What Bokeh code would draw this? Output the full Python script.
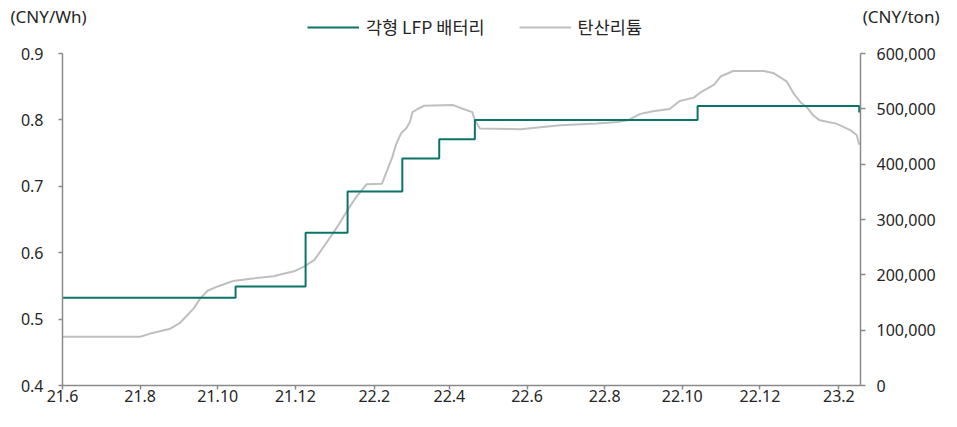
import pandas as pd
from bokeh.plotting import figure
from bokeh.layouts import column
from bokeh.models import (Range1d, LinearAxis, FixedTicker, NumeralTickFormatter,
                          Legend, LegendItem, Label)
from bokeh.embed import file_html
from bokeh.resources import INLINE

# ---- data ----
tick_dates = ["2021-06-01", "2021-08-01", "2021-10-01", "2021-12-01", "2022-02-01",
              "2022-04-01", "2022-06-01", "2022-08-01", "2022-10-01", "2022-12-01",
              "2023-02-01"]
tick_labels = ["21.6", "21.8", "21.10", "21.12", "22.2", "22.4", "22.6", "22.8",
               "22.10", "22.12", "23.2"]

lfp_dates = ["2021-06-01", "2021-10-15", "2021-12-09", "2022-01-11", "2022-02-23",
             "2022-03-24", "2022-04-21", "2022-10-13", "2023-02-17"]
lfp_values = [0.532, 0.549, 0.630, 0.692, 0.742, 0.771, 0.800, 0.821, 0.811]

li_dates = ["2021-06-01", "2021-08-01", "2021-08-09", "2021-08-24", "2021-09-01",
            "2021-09-07", "2021-09-12", "2021-09-17", "2021-09-23", "2021-10-01",
            "2021-10-13", "2021-10-27", "2021-11-14", "2021-11-19", "2021-11-30",
            "2021-12-08", "2021-12-16", "2021-12-24", "2021-12-31", "2022-01-05",
            "2022-01-12", "2022-01-18", "2022-01-26", "2022-02-07", "2022-02-11",
            "2022-02-15", "2022-02-18", "2022-02-22", "2022-02-26", "2022-03-01",
            "2022-03-03", "2022-03-07", "2022-03-12", "2022-04-04", "2022-04-12",
            "2022-04-19", "2022-04-21", "2022-04-25", "2022-05-27", "2022-06-27",
            "2022-07-26", "2022-08-11", "2022-08-19", "2022-08-29", "2022-09-08",
            "2022-09-21", "2022-09-29", "2022-10-10", "2022-10-15", "2022-10-26",
            "2022-10-31", "2022-11-10", "2022-12-04", "2022-12-12", "2022-12-22",
            "2022-12-28", "2023-01-02", "2023-01-07", "2023-01-12", "2023-01-17",
            "2023-01-30", "2023-02-10", "2023-02-15", "2023-02-17"]
li_values = [88000, 88000, 93800, 102000, 112600,
             127000, 139000, 156600, 171200, 179000,
             188800, 193000, 197600, 200600, 206400,
             215200, 227000, 253400, 276800, 294400,
             320800, 341400, 363700, 364800, 388300,
             411800, 435200, 455700, 464500, 476300,
             494000, 499700, 505500, 506800, 499700,
             494000, 479200, 464500, 463300, 470400,
             473300, 476300, 479200, 490900, 495600,
             499700, 514300, 520300, 529100, 543700,
             558400, 568400, 568400, 564200, 549600,
             526100, 511500, 502700, 487900, 479200,
             473300, 461600, 452800, 435200]

left_ticks = [0.4, 0.5, 0.6, 0.7, 0.8, 0.9]
right_ticks = [0, 100000, 200000, 300000, 400000, 500000, 600000]

series_names = ["각형 LFP 배터리", "탄산리튬"]
left_unit = "(CNY/Wh)"
right_unit = "(CNY/ton)"

# ---- styles ----
TEAL = "#0b7468"
GRAY = "#bfbfbf"
AX = "#8a8a8a"
TXT = "#262626"
FONT = "Noto Sans"
KFONT = "Noto Sans CJK KR"
W = 941
HH = 42
NAN = float("nan")

# ---- header strip (units + legend) ----
h = figure(width=W, height=HH, output_backend="svg", toolbar_location=None,
           x_range=Range1d(0, 1), y_range=Range1d(0, 1),
           x_axis_location=None, y_axis_location=None,
           min_border=0, min_border_left=0, min_border_right=0,
           min_border_top=0, min_border_bottom=0)
h.frame_align = False
h.outline_line_color = None
h.grid.visible = False
lg_lfp = h.line(x=[NAN], y=[NAN], line_color=TEAL, line_width=2)
lg_li = h.line(x=[NAN], y=[NAN], line_color=GRAY, line_width=2)
legend = Legend(items=[LegendItem(label=series_names[0], renderers=[lg_lfp]),
                       LegendItem(label=series_names[1], renderers=[lg_li])],
                orientation="horizontal", location=(307, 3),
                padding=0, margin=0, spacing=34, label_standoff=7,
                glyph_width=52, glyph_height=20, label_height=20,
                border_line_color=None, background_fill_alpha=0,
                label_text_font=KFONT, label_text_font_size="17.5px",
                label_text_color=TXT)
h.add_layout(legend)
h.add_layout(Label(x=10, y=HH - 16, x_units="screen", y_units="screen",
                   text=left_unit, text_baseline="middle", text_align="left",
                   text_font=FONT, text_font_size="17px", text_color=TXT))
h.add_layout(Label(x=W - 2, y=HH - 16, x_units="screen", y_units="screen",
                   text=right_unit, text_baseline="middle", text_align="right",
                   text_font=FONT, text_font_size="17px", text_color=TXT))

# ---- main chart ----
x_start = pd.Timestamp("2021-06-01")
x_end = pd.Timestamp("2023-02-18")

p = figure(width=W, height=411 - HH, x_axis_type="datetime",
           output_backend="svg", toolbar_location=None,
           x_range=Range1d(x_start, x_end), y_range=Range1d(0.4, 0.9),
           min_border_left=62, min_border_right=81, min_border_top=53 - HH,
           min_border_bottom=26)
p.frame_align = False
p.outline_line_color = None
p.grid.visible = False

p.extra_y_ranges = {"li": Range1d(0, 600000)}

r_li = p.line(pd.to_datetime(li_dates), li_values, y_range_name="li",
              line_color=GRAY, line_width=2)
r_lfp = p.step(pd.to_datetime(lfp_dates), lfp_values, mode="after",
               line_color=TEAL, line_width=2)

tick_ms = [int(pd.Timestamp(d).value // 10**6) for d in tick_dates]
xa = p.xaxis[0]
xa.ticker = FixedTicker(ticks=tick_ms)
xa.major_label_overrides = {t: l for t, l in zip(tick_ms, tick_labels)}

ya = p.yaxis[0]
ya.ticker = FixedTicker(ticks=left_ticks)

ra = LinearAxis(y_range_name="li", ticker=FixedTicker(ticks=right_ticks),
                formatter=NumeralTickFormatter(format="0,0"))
p.add_layout(ra, "right")

for ax in (xa, ya, ra):
    ax.minor_tick_line_color = None
    ax.axis_line_color = AX
    ax.axis_line_width = 1.5
    ax.major_tick_line_color = AX
    ax.major_tick_line_width = 1.5
    ax.major_tick_in = 0
    ax.major_label_text_font = FONT
    ax.major_label_text_font_size = "16px"
    ax.major_label_text_color = TXT

xa.major_tick_out = 4
xa.major_label_standoff = 0
ya.major_tick_out = 4
ya.major_label_standoff = 15
ra.major_tick_out = 5
ra.major_label_standoff = 11

layout = column(h, p, spacing=0)
open("out.html", "w").write(file_html(layout, INLINE))
